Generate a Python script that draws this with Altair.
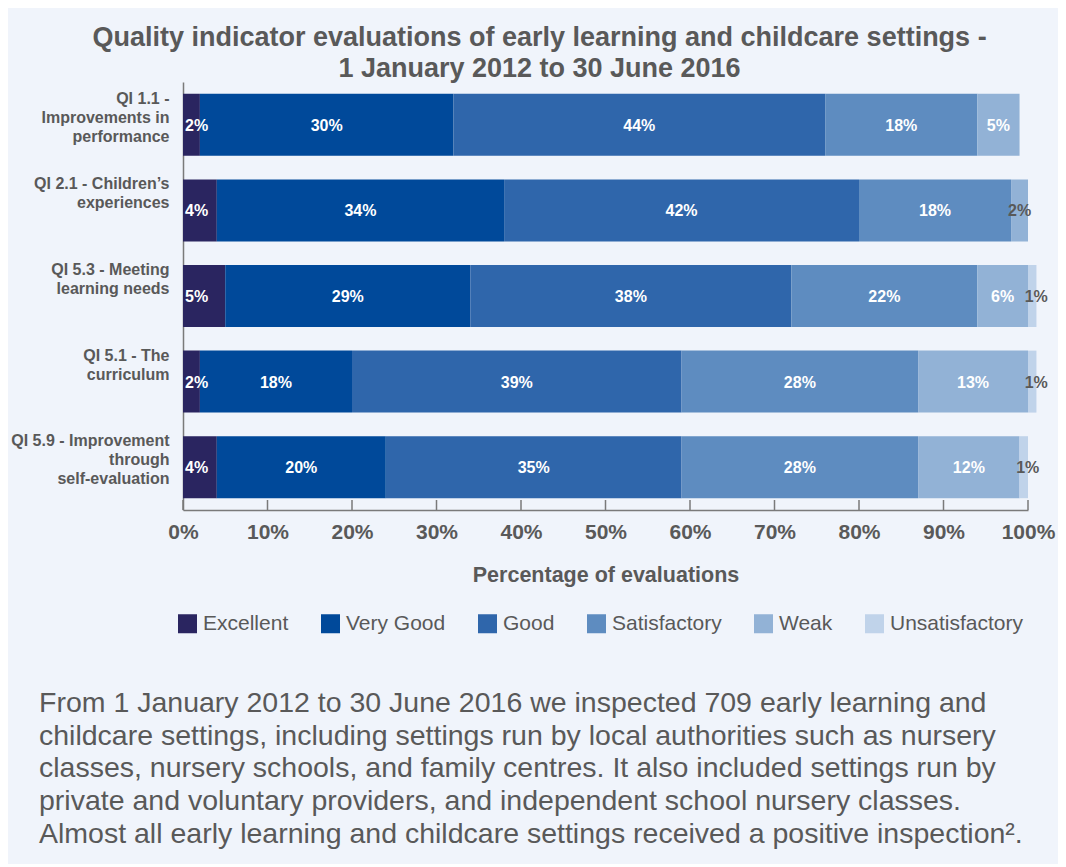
import altair as alt
import pandas as pd

# ---- data ----
categories = [
    "QI 1.1 -|Improvements in|performance",
    "QI 2.1 - Children\u2019s|experiences",
    "QI 5.3 - Meeting|learning needs",
    "QI 5.1 - The|curriculum",
    "QI 5.9 - Improvement|through|self-evaluation",
]
ratings = ["Excellent", "Very Good", "Good", "Satisfactory", "Weak", "Unsatisfactory"]
excellent = [2, 4, 5, 2, 4]
very_good = [30, 34, 29, 18, 20]
good = [44, 42, 38, 39, 35]
satisfactory = [18, 18, 22, 28, 28]
weak = [5, 2, 6, 13, 12]
unsatisfactory = [0, 0, 1, 1, 1]
colors = ["#2A2560", "#00499A", "#2F66AB", "#5E8CC0", "#92B2D6", "#C0D3EA"]
tick_values = [0, 10, 20, 30, 40, 50, 60, 70, 80, 90, 100]
paragraph_lines = [
    "From 1 January 2012 to 30 June 2016 we inspected 709 early learning and",
    "childcare settings, including settings run by local authorities such as nursery",
    "classes, nursery schools, and family centres. It also included settings run by",
    "private and voluntary providers, and independent school nursery classes.",
    "Almost all early learning and childcare settings received a positive inspection\u00b2.",
]
title_lines = [
    "Quality indicator evaluations of early learning and childcare settings -",
    "1 January 2012 to 30 June 2016",
]

series = [excellent, very_good, good, satisfactory, weak, unsatisfactory]
rows = []
for r_i, (rating, vals) in enumerate(zip(ratings, series)):
    for c, v in zip(categories, vals):
        rows.append({"cat": c, "rating": rating, "order": r_i, "value": v})
df = pd.DataFrame(rows)
df = df[df["value"] > 0]

GREY = "#595959"
FONT = "Liberation Sans"
W, H = 845, 428
TOTAL_W, TOTAL_H = 1050, 856
PAD_L, PAD_T = 175, 74

base = alt.Chart(df).transform_stack(
    stack="value", groupby=["cat"], sort=[alt.SortField("order")], as_=["x0", "x1"]
).transform_calculate(mid="(datum.x0 + datum.x1) / 2", label="datum.value + '%'")

xscale = alt.Scale(domain=[0, 100], nice=False, zero=True)
yenc = alt.Y(
    "cat:N",
    sort=categories,
    scale=alt.Scale(paddingInner=0.276, paddingOuter=0.138),
    axis=alt.Axis(
        title=None,
        labelExpr="split(datum.label, '|')",
        labelFont=FONT,
        labelFontSize=16,
        labelFontWeight="bold",
        labelColor=GREY,
        labelAlign="right",
        labelBaseline="top",
        labelOffset=-34,
        labelPadding=14,
        labelLineHeight=19,
        labelLimit=400,
        ticks=False,
        domainColor="#7A7A7A",
        domainWidth=1.5,
    ),
)

bars = base.mark_bar(cornerRadius=0).encode(
    x=alt.X(
        "x0:Q",
        scale=xscale,
        axis=alt.Axis(
            values=tick_values,
            labelExpr="datum.value + '%'",
            title="Percentage of evaluations",
            titleFont=FONT,
            titleFontSize=21.5,
            titleFontWeight="bold",
            titleColor=GREY,
            titlePadding=22,
            labelFont=FONT,
            labelFontSize=21,
            labelFontWeight="bold",
            labelColor=GREY,
            labelPadding=11,
            labelBaseline="top",
            labelFlush=False,
            labelOverlap=False,
            ticks=False,
            grid=False,
            domainColor="#7A7A7A",
            domainWidth=1.5,
        ),
    ),
    x2="x1:Q",
    y=yenc,
    color=alt.Color(
        "rating:N",
        scale=alt.Scale(domain=ratings, range=colors),
        legend=alt.Legend(
            title=None,
            orient="none",
            direction="horizontal",
            legendX=-6,
            legendY=531,
            symbolType="square",
            symbolSize=361,
            symbolStrokeWidth=0,
            symbolOpacity=1,
            labelFont=FONT,
            labelFontSize=21,
            labelColor=GREY,
            labelOffset=5,
            columnPadding=31,
            padding=0,
            labelLimit=300,
        ),
    ),
)

ycat = alt.Y("cat:N", sort=categories)
txt = dict(font=FONT, fontSize=16, fontWeight="bold", baseline="middle", dy=1)

labels_mid = base.transform_filter(
    "datum.rating != 'Excellent' && datum.rating != 'Unsatisfactory'"
).mark_text(**txt).encode(
    x=alt.X("mid:Q", scale=xscale),
    y=ycat,
    text=alt.Text("label:N"),
    color=alt.condition("datum.value <= 2", alt.value(GREY), alt.value("white")),
)

labels_exc = base.transform_filter("datum.rating == 'Excellent'").mark_text(
    align="left", dx=2, color="white", **txt
).encode(x=alt.X("x0:Q", scale=xscale), y=ycat, text=alt.Text("label:N"))

labels_uns = base.transform_filter("datum.rating == 'Unsatisfactory'").mark_text(
    dx=4, color=GREY, **txt
).encode(x=alt.X("mid:Q", scale=xscale), y=ycat, text=alt.Text("label:N"))

ticks = alt.Chart(pd.DataFrame({"tick": tick_values})).mark_rule(
    color="#7A7A7A", strokeWidth=1.5
).encode(x=alt.X("tick:Q", scale=xscale), y=alt.value(H - 10), y2=alt.value(H))

para = alt.Chart(pd.DataFrame({"t": ["\n".join(paragraph_lines)]})).mark_text(
    font=FONT, fontSize=28.5, color=GREY, align="left", baseline="top",
    lineBreak="\n", lineHeight=32.7,
).encode(text="t:N", x=alt.value(39 - 8 - PAD_L), y=alt.value(607))

chart = alt.layer(bars, labels_mid, labels_exc, labels_uns, ticks, para).properties(
    width=W,
    height=H,
    autosize=alt.AutoSizeParams(type="none"),
    padding={"left": PAD_L, "top": PAD_T, "right": TOTAL_W - PAD_L - W, "bottom": TOTAL_H - PAD_T - H},
    background="#F0F4FB",
    title=alt.TitleParams(
        text=title_lines,
        font=FONT,
        fontSize=27,
        fontWeight="bold",
        color=GREY,
        anchor="middle",
        dx=-66,
        offset=-1,
        lineHeight=31,
    ),
).resolve_scale(color="independent").configure_view(stroke=None)

chart.save("out.html", embed_options={"renderer": "svg", "actions": False})
